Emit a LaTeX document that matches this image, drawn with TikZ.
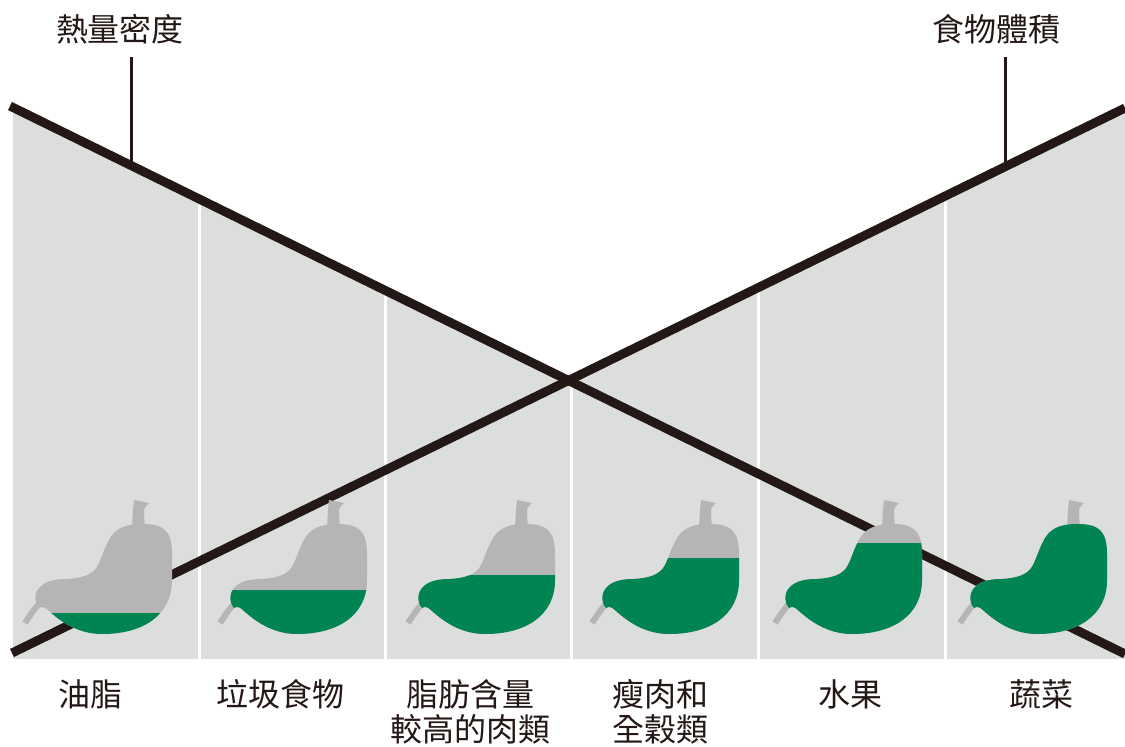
\documentclass[tikz,border=0pt]{standalone}
\usepackage{fontspec}
\newfontfamily\cjk{Noto Sans CJK TC}
\definecolor{panelgrey}{RGB}{220,221,221}
\definecolor{stomachgrey}{RGB}{181,181,182}
\definecolor{stomachgreen}{RGB}{0,132,81}
\definecolor{inkdark}{RGB}{35,24,21}

% outline of the stomach body, local units (x right, y down)
\newcommand{\stomachbody}{(111,62) .. controls (117,48) and (129,44) .. (145,44) .. controls (166,44) and (175,50) .. (175,74) -- (175,100) .. controls (175,136) and (145,154) .. (105,154) .. controls (80,154) and (62,140) .. (52,131) .. controls (48,127) and (45,126) .. (42,128) .. controls (37,122) and (37,114) .. (42,108) .. controls (48,101) and (58,99) .. (70,99) .. controls (85,98) and (96,95) .. (101,85) .. controls (105,77) and (107,69) .. (111,62) -- cycle}

% stomach icon: #1 = x offset, #2 = level of the green filling
\newcommand{\stomachfig}[2]{%
  \begin{scope}[shift={(#1,480)}]
    \draw[stomachgrey, line width=6pt] (47,119) .. controls (38,128) .. (28,143);
    \fill[stomachgrey] (135,48) -- (136,30) .. controls (136,25) .. (137,20) -- (152,23) .. controls (147,28) .. (147,34) -- (148,48) -- cycle;
    \fill[stomachgrey] \stomachbody;
    \begin{scope}
      \clip \stomachbody;
      \fill[stomachgreen] (0,#2) rectangle (200,200);
    \end{scope}
  \end{scope}}

\tikzset{
  lab/.style={font=\cjk\fontsize{32}{35}\selectfont, text=inkdark, inner sep=0pt, anchor=north, align=center},
  trend/.style={draw=inkdark, line width=9pt},
  stalk/.style={draw=inkdark, line width=3pt},
  divider/.style={draw=white, line width=3pt}
}

\begin{document}
\begin{tikzpicture}[x=1pt, y=-1pt]
  \useasboundingbox (0,0) rectangle (1125,747);

  % end points of the two trend lines
  \coordinate (a1) at (10,106);
  \coordinate (a2) at (1125,654);
  \coordinate (b1) at (12,653);
  \coordinate (b2) at (1125,108);

  % grey field below the crossing lines
  \begin{scope}
    \clip (13,107) -- (568.5,380) -- (1125,108) -- (1125,659) -- (13,659) -- cycle;
    \fill[panelgrey] (0,0) rectangle (1125,659);
    \foreach \xx in {199,385,571,758,945}
      \draw[divider] (\xx,0) -- (\xx,659);
  \end{scope}

  % trend lines
  \draw[trend] (a1) -- (a2);
  \draw[trend] (b1) -- (b2);

  % titles and their stalks
  \node[lab] (tdensity) at (120,14) {熱量密度};
  \node[lab] (tvolume) at (996,14) {食物體積};
  \coordinate (s1top) at (131,57);
  \coordinate (s1bot) at (131,168);
  \coordinate (s2top) at (1005,57);
  \coordinate (s2bot) at (1005,168);
  \draw[stalk] (s1top) -- (s1bot);
  \draw[stalk] (s2top) -- (s2bot);

  % stomach icons
  \stomachfig{-3}{133}
  \stomachfig{192}{110}
  \stomachfig{380}{95}
  \stomachfig{564}{78}
  \stomachfig{747}{63}
  \stomachfig{932}{0}

  % category labels
  \node[lab] (c1) at (90,679) {油脂};
  \node[lab] (c2) at (280,679) {垃圾食物};
  \node[lab] (c3) at (470,679) {脂肪含量\\較高的肉類};
  \node[lab] (c4) at (660,679) {瘦肉和\\全穀類};
  \node[lab] (c5) at (850,679) {水果};
  \node[lab] (c6) at (1041,679) {蔬菜};
\end{tikzpicture}
\end{document}
